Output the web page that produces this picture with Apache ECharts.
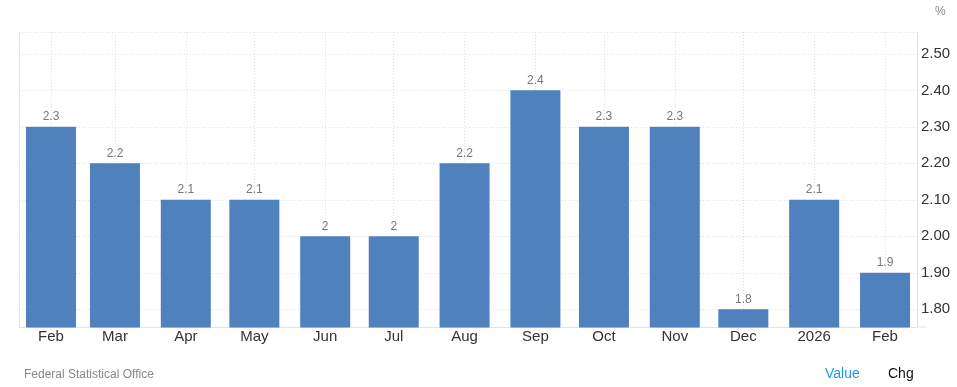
<!DOCTYPE html>
<html>
<head>
<meta charset="utf-8">
<script src="https://cdn.jsdelivr.net/npm/echarts@6/dist/echarts.min.js"></script>
<style>
html,body{margin:0;padding:0;background:#fff;}
#chart{width:957px;height:387px;}
</style>
</head>
<body>
<div id="chart"></div>
<script>
var dates = ['2025-02-01','2025-03-01','2025-04-01','2025-05-01','2025-06-01','2025-07-01','2025-08-01','2025-09-01','2025-10-01','2025-11-01','2025-12-01','2026-01-01','2026-02-01'];
var values = [2.3, 2.2, 2.1, 2.1, 2.0, 2.0, 2.2, 2.4, 2.3, 2.3, 1.8, 2.1, 1.9];
var monthNames = ['Jan','Feb','Mar','Apr','May','Jun','Jul','Aug','Sep','Oct','Nov','Dec'];
var yTicks = [1.8, 1.9, 2.0, 2.1, 2.2, 2.3, 2.4, 2.5];
var yGridLines = [1.8, 1.9, 2.0, 2.1, 2.2, 2.3, 2.4, 2.5, 2.56];
var xMinDate = '2025-01-18', xMaxDate = '2026-02-15';
var yMin = 1.75, yMax = 2.56;

function toTs(s){ var p = s.split('-'); return Date.UTC(+p[0], +p[1]-1, +p[2]); }
var tsDates = dates.map(toTs);
var chart = echarts.init(document.getElementById('chart'), null, {renderer:'canvas'});
var font = '"Liberation Sans", Arial, sans-serif';
chart.setOption({
  animation:false,
  textStyle:{fontFamily:font},
  grid:{left:19, right:40, top:32, bottom:59.5, containLabel:false},
  xAxis:{
    type:'value', min:toTs(xMinDate), max:toTs(xMaxDate),
    axisLine:{show:true, onZero:false, lineStyle:{color:'#e3e3e3', width:1}},
    axisTick:{show:false, customValues: tsDates},
    axisLabel:{customValues: tsDates, color:'#333', fontSize:15, margin:2,
      formatter:function(v){ var d=new Date(v); return d.getUTCMonth()===0 ? String(d.getUTCFullYear()) : monthNames[d.getUTCMonth()]; }},
    splitLine:{show:true, lineStyle:{color:'#e0e0e0', type:[1,2], width:1}}
  },
  yAxis:[{
    type:'value', position:'right', min:yMin, max:yMax,
    axisLine:{show:true, lineStyle:{color:'#e3e3e3'}},
    axisTick:{show:false, customValues: yGridLines},
    axisLabel:{customValues: yTicks, color:'#333', fontSize:15, margin:4,
      formatter:function(v){ return v.toFixed(2); }},
    splitLine:{show:true, lineStyle:{color:'#e0e0e0', type:[1,2], width:1}}
  },{
    type:'value', position:'left', min:yMin, max:yMax,
    axisLine:{show:true, lineStyle:{color:'#e3e3e3'}},
    axisTick:{show:false}, axisLabel:{show:false}, splitLine:{show:false}
  }],
  series:[{
    type:'bar', barWidth:50,
    data: tsDates.map(function(t,i){ return [t, values[i]]; }),
    itemStyle:{color:'#4f81bd'},
    label:{show:true, position:'top', distance:4, color:'#777', fontSize:12, fontFamily:font}
  }],
  graphic:[
    {type:'text', left:935, top:6, style:{text:'%', fill:'#888', font:'12px '+font}},
    {type:'text', left:24, top:369, style:{text:'Federal Statistical Office', fill:'#888', font:'12px '+font}},
    {type:'text', left:825, top:367, style:{text:'Value', fill:'#2196f3', font:'14px '+font}},
    {type:'text', left:888, top:367, style:{text:'Chg', fill:'#111', font:'14px '+font}},
    {type:'line', shape:{x1:917, y1:327, x2:927, y2:327}, style:{stroke:'#e3e3e3', lineWidth:1}}
  ]
});
</script>
</body>
</html>
